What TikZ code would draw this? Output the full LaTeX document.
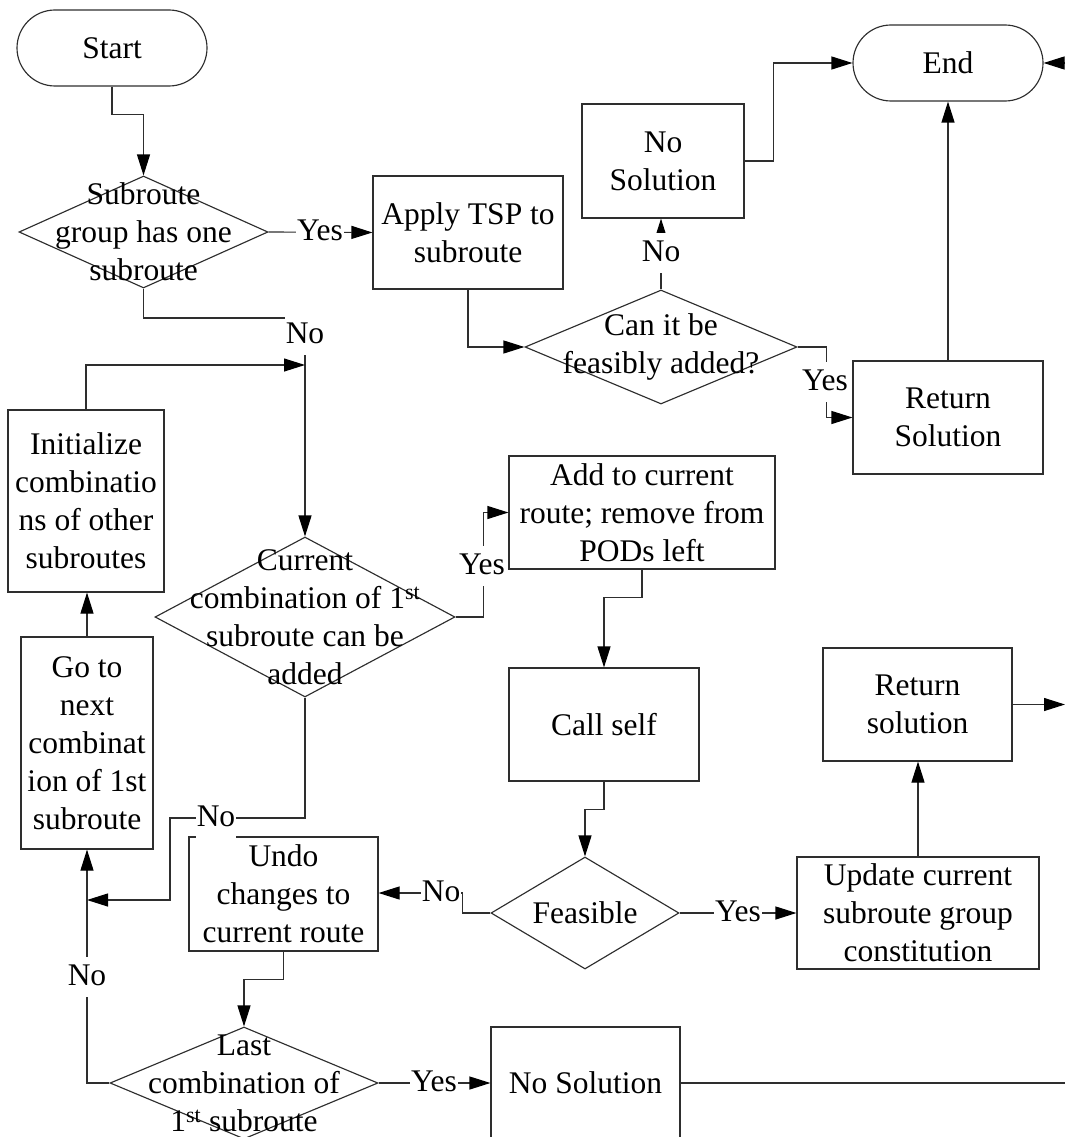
\documentclass[tikz,border=0pt]{standalone}
\usepackage{fontspec}
\setmainfont{Liberation Serif}
\usetikzlibrary{arrows.meta,shapes.geometric}

\begin{document}
\begin{tikzpicture}[x=1pt,y=-1pt,
  every node/.style={font=\fontsize{31.5}{38}\selectfont},
  line/.style={draw=black!82, line width=1.15pt},
  arr/.style={line, -{Triangle[length=21pt,width=13pt,color=black]}},
  box/.style={line, rectangle, inner sep=0pt, align=center},
  term/.style={box, rounded corners=38pt, minimum width=190pt, minimum height=76pt},
  dia/.style={line, diamond, inner sep=0pt},
  txt/.style={inner sep=0pt, align=center},
  lab/.style={fill=white, inner xsep=1pt, inner ysep=2pt, text height=26pt, text depth=10pt},
  labh/.style={fill=white, inner xsep=1pt, inner ysep=2pt, text height=24pt, text depth=4pt, anchor=base}
]
\useasboundingbox (0,0) rectangle (1065,1137);

% terminals
\node[term] (start) at (112,48) {Start};
\node[term] (end) at (948,63) {End};

% decisions
\node[dia, minimum width=249pt, minimum height=112pt] (d1) at (143.5,232) {};
\node[txt] (d1t) at (d1) {Subroute\\group has one\\subroute};
\node[dia, minimum width=272pt, minimum height=114pt] (can) at (661,347) {};
\node[txt] (cant) at (can) {Can it be\\feasibly added?};
\node[dia, minimum width=300pt, minimum height=160pt] (d2) at (305,617) {};
\node[txt] (d2t) at (d2) {Current\\combination of 1\textsuperscript{st}\\subroute can be\\added};
\node[dia, minimum width=188pt, minimum height=112pt] (feas) at (585,913) {};
\node[txt] (feast) at (feas) {Feasible};
\node[dia, minimum width=268pt, minimum height=112pt] (last) at (244,1083) {};
\node[txt] (lastt) at (last) {Last\\combination of\\1\textsuperscript{st} subroute};

% process boxes
\node[box, minimum width=190pt, minimum height=113pt] (apply) at (468,232.5) {Apply TSP to\\subroute};
\node[box, minimum width=162pt, minimum height=114pt] (nosol1) at (663,161) {No\\Solution};
\node[box, minimum width=190pt, minimum height=113pt] (retS) at (948,417.5) {Return\\Solution};
\node[box, minimum width=156pt, minimum height=182pt] (init) at (86,501) {Initialize\\combinatio\\ns of other\\subroutes};
\node[box, minimum width=266pt, minimum height=113pt] (add) at (642,512.5) {Add to current\\route; remove from\\PODs left};
\node[box, minimum width=190pt, minimum height=113pt] (call) at (604,724.5) {Call self};
\node[box, minimum width=132pt, minimum height=212pt] (gonext) at (87,743) {Go to\\next\\combinat\\ion of 1st\\subroute};
\node[box, minimum width=189pt, minimum height=114pt] (undo) at (283.5,894) {Undo\\changes to\\current route};
\node[box, minimum width=242pt, minimum height=112pt] (update) at (918,913) {Update current\\subroute group\\constitution};
\node[box, minimum width=189pt, minimum height=113pt] (retsol) at (917.5,704.5) {Return\\solution};
\node[box, minimum width=189pt, minimum height=112pt] (nosol2) at (585.5,1083) {No Solution};

% free ends at the border and junction points
\coordinate (inEnd) at (1065,63);
\coordinate (outRet) at (1065,704.5);
\coordinate (outNo) at (1065,1083);
\coordinate (join) at (305,365);
\coordinate (merge) at (87,900);

% connectors
\draw[arr] (start.south) -- ++(0,28) -| (d1.north);
\draw[arr] (d1.east) -- (apply.west);
\draw[arr] (d1.south) |- (305,318) -- (d2.north);
\draw[arr] (init.north) |- (join);
\draw[arr] (gonext.north) -- (gonext.north |- init.south);
\draw[arr] (apply.south) |- (can.west);
\draw[arr] (can.north) -- (can.north |- nosol1.south);
\draw[arr] (can.east) -- ++(29,0) |- (retS.west);
\draw[arr] (nosol1.east) -- ++(29,0) |- (end.west);
\draw[arr] (retS.north) -- (end.south);
\draw[arr] (inEnd) -- (end.east);
\draw[arr] (d2.east) -- ++(28,0) |- (add.west);
\draw[arr] (add.south) -- ++(0,28) -| (call.north);
\draw[arr] (call.south) -- ++(0,28) -| (feas.north);
\draw[arr] (feas.west) -- ++(-28,0) -- ++(0,-20) -- (undo.east |- 0,893);
\draw[arr] (feas.east) -- (update.west);
\draw[arr] (update.north) -- (update.north |- retsol.south);
\draw[arr] (retsol.east) -- (outRet);
\draw[arr] (d2.south) |- (170,818) |- (merge);
\draw[arr] (undo.south) -- ++(0,28) -| (last.north);
\draw[arr] (last.west) -| (gonext.south);
\draw[arr] (last.east) -- (nosol2.west);
\draw[line] (nosol2.east) -- (outNo);

% branch labels
\node[labh] (y1) at (320,240) {Yes};
\node[lab] (n1) at (305,335) {No};
\node[lab] (n2) at (661,253) {No};
\node[lab] (y2) at (825,382) {Yes};
\node[lab] (y3) at (482,566) {Yes};
\node[lab] (n3) at (216,818) {No};
\node[labh] (n4) at (441,901) {No};
\node[labh] (y4) at (738,921) {Yes};
\node[lab] (n5) at (87,977) {No};
\node[labh] (y5) at (434,1091) {Yes};
\end{tikzpicture}
\end{document}
